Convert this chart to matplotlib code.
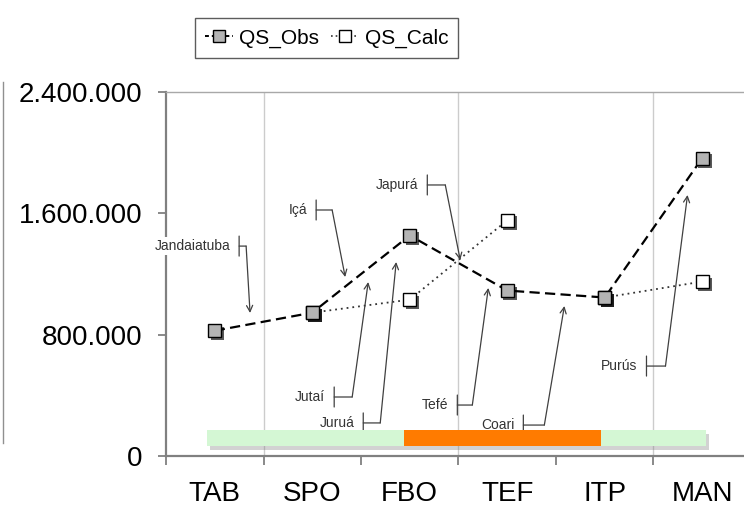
import numpy as np
import matplotlib
matplotlib.use('Agg')
import matplotlib.pyplot as plt
import matplotlib.patheffects as pe
from matplotlib.transforms import offset_copy
from matplotlib.patches import Rectangle
from matplotlib.lines import Line2D
from matplotlib import font_manager

plt.rcParams['font.family'] = ['Liberation Sans', 'DejaVu Sans']

# ---------------- data ----------------
categories = ['TAB', 'SPO', 'FBO', 'TEF', 'ITP', 'MAN']
qs_obs = [826000, 945000, 1454000, 1091000, 1045000, 1964000]
qs_calc = [np.nan, 945000, 1031000, 1554000, 1045000, 1150000]
calc_runs = [[1, 2, 3], [4, 5]]          # connected pieces of QS_Calc
y_ticks = [0, 800000, 1600000, 2400000]
y_tick_labels = ['0', '800.000', '1.600.000', '2.400.000']

band_starts = [-0.08, 1.94, 3.96]
band_ends = [1.94, 3.96, 5.04]
band_colors = ['#d4f7d4', '#ff7b00', '#d4f7d4']
band_bottom = 65000
band_top = 170000

ann_labels = ['Jandaiatuba', 'Içá', 'Japurá', 'Jutaí', 'Juruá', 'Tefé', 'Coari', 'Purús']
ann_bar_x = [0.25, 1.04, 2.18, 1.225, 1.523, 2.488, 3.165, 4.428]
ann_bar_y = [1384000, 1622000, 1787000, 389000, 218000, 336000, 204000, 593000]
ann_tip_x = [0.362, 1.338, 2.518, 1.574, 1.861, 2.806, 3.586, 4.849]
ann_tip_y = [943000, 1180000, 1292000, 1147000, 1279000, 1108000, 989000, 1721000]
ann_elbow = [7, 16, 18, 18, 17, 15, 21, 19]

# narrow font for legend if available
installed = {f.name for f in font_manager.fontManager.ttflist}
if 'Liberation Sans Narrow' in installed:
    leg_family, leg_size = ['Liberation Sans Narrow', 'Liberation Sans'], 18
else:
    leg_family, leg_size = ['Liberation Sans', 'DejaVu Sans'], 15

# ---------------- figure ----------------
fig = plt.figure(figsize=(7.44, 5.09), dpi=100)
ax = fig.add_axes([166 / 744, 53 / 509, 585 / 744, 364 / 509])
x = np.arange(len(categories))
ax.set_xlim(-0.5, len(categories) - 0.5)
ax.set_ylim(0, 2400000)

# vertical gridlines every other boundary
for xv in x[::2] + 0.5:
    ax.axvline(xv, color='#cccccc', lw=1, zorder=0)

# ticks
ax.set_xticks(np.arange(-0.5, len(categories), 1.0))
ax.set_xticks(x, categories, minor=True)
ax.tick_params(axis='x', which='major', length=6.5, width=1.3, color='#808080',
               labelbottom=False, direction='out')
ax.tick_params(axis='x', which='minor', length=0, labelsize=20, pad=18)
ax.set_yticks(y_ticks, y_tick_labels)
ax.tick_params(axis='y', length=6, width=1.3, color='#808080', labelsize=20, pad=11,
               direction='out')

for s in ['left', 'bottom']:
    ax.spines[s].set_color('#808080')
    ax.spines[s].set_linewidth(1.6)
ax.spines['top'].set_color('#a8a8a8')
ax.spines['top'].set_linewidth(1.0)
ax.spines['right'].set_visible(False)

# lines
ax.plot(x, qs_obs, color='black', lw=1.6, dashes=(4.6, 2.4), zorder=3)
calc_arr = np.array(qs_calc)
for run in calc_runs:
    ax.plot(x[run], calc_arr[run], color='#333333', lw=1.3, dashes=(1, 2.2), zorder=3)

shadow = [pe.SimplePatchShadow(offset=(2, -2), shadow_rgbFace='black', alpha=0.65), pe.Normal()]
for run in calc_runs:
    ax.plot(x[run], calc_arr[run], ls='none', marker='s', ms=9.5, mfc='white',
            mec='black', mew=1, zorder=4, path_effects=shadow)
ax.plot(x, qs_obs, ls='none', marker='s', ms=9.5, mfc='#b4b4b4', mec='black',
        mew=1, zorder=5, path_effects=shadow)

# annotations
for lab, bx, by, tx, ty, el in zip(ann_labels, ann_bar_x, ann_bar_y,
                                   ann_tip_x, ann_tip_y, ann_elbow):
    t_el = offset_copy(ax.transData, fig=fig, x=el, y=0, units='dots')
    t_up = offset_copy(ax.transData, fig=fig, x=0, y=10, units='dots')
    t_dn = offset_copy(ax.transData, fig=fig, x=0, y=-10, units='dots')
    lc = '#404040'
    ax.annotate('', xy=(tx, ty), xycoords='data', xytext=(bx, by), textcoords=t_el,
                arrowprops=dict(arrowstyle='->', color=lc, lw=0.9, shrinkA=0, shrinkB=0,
                                mutation_scale=11))
    ax.annotate('', xy=(bx, by), xycoords='data', xytext=(bx, by), textcoords=t_el,
                arrowprops=dict(arrowstyle='-', color=lc, lw=0.9, shrinkA=0, shrinkB=0))
    ax.annotate('', xy=(bx, by), xycoords=t_up, xytext=(bx, by), textcoords=t_dn,
                arrowprops=dict(arrowstyle='-', color=lc, lw=0.9, shrinkA=0, shrinkB=0))
    ax.text(bx, by, lab, transform=offset_copy(ax.transData, fig=fig, x=-9, y=0, units='dots'),
            ha='right', va='center', fontsize=10, color='#333333', zorder=5,
            bbox=dict(fc='white', ec='none', pad=1.5))

# bands
for s, e, c in zip(band_starts, band_ends, band_colors):
    ax.add_patch(Rectangle((s, band_bottom), e - s, band_top - band_bottom, fc=c, ec='none',
                           zorder=6,
                           path_effects=[pe.SimplePatchShadow(offset=(2, -3), shadow_rgbFace='gray',
                                                              alpha=0.35), pe.Normal()]))

# legend
h_obs = Line2D([], [], color='black', lw=1.4, dashes=(2, 1.5), marker='s', ms=8,
               mfc='#b4b4b4', mec='black', mew=1)
h_calc = Line2D([], [], color='#333333', lw=1.2, dashes=(1, 1.8), marker='s', ms=8,
                mfc='white', mec='black', mew=1)
leg = fig.legend([h_obs, h_calc], ['QS_Obs', 'QS_Calc'], ncol=2, loc='upper left',
                 bbox_to_anchor=(195 / 744, 1 - 18 / 509), bbox_transform=fig.transFigure,
                 prop={'family': leg_family, 'size': leg_size}, frameon=True, fancybox=False,
                 edgecolor='#333333', handlelength=1.3, handletextpad=0.3, columnspacing=0.6,
                 borderpad=0.5, borderaxespad=0)
leg.get_frame().set_linewidth(1.0)

# left partial frame
fig.add_artist(Line2D([3 / 744, 3 / 744], [1 - 82 / 509, 1 - 443 / 509],
                      transform=fig.transFigure, color='#909090', lw=1))

fig.savefig('out.png', dpi=100)
